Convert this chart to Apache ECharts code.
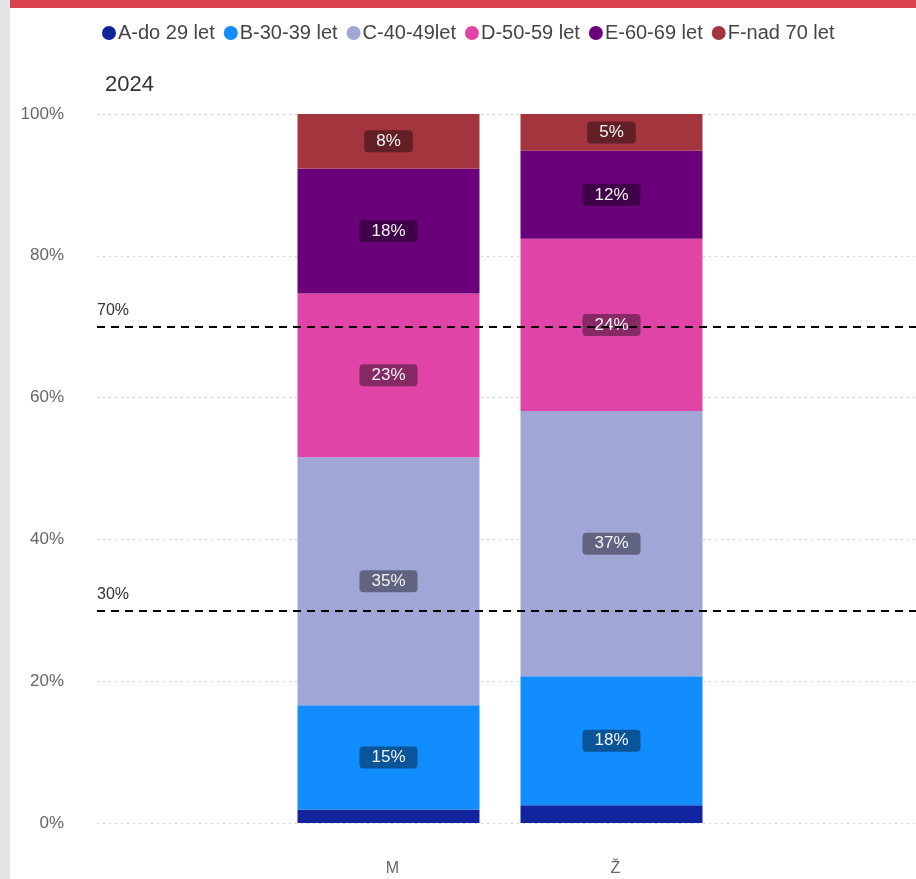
<!DOCTYPE html>
<html>
<head>
<meta charset="utf-8">
<script src="https://cdn.jsdelivr.net/npm/echarts@6/dist/echarts.min.js"></script>
<style>
html,body{margin:0;padding:0;background:#fff;}
#chart{width:916px;height:879px;}
</style>
</head>
<body>
<div id="chart"></div>
<script>
// ---- data ----
const categories = ['M', 'Ž'];
const seriesNames = ['A-do 29 let', 'B-30-39 let', 'C-40-49let', 'D-50-59 let', 'E-60-69 let', 'F-nad 70 let'];
const valuesA = [1.9, 2.5];
const valuesB = [14.7, 18.2];
const valuesC = [35.0, 37.4];
const valuesD = [23.1, 24.3];
const valuesE = [17.6, 12.4];
const valuesF = [7.7, 5.2];
const referenceLines = [70, 30];
const yTicks = [0, 20, 40, 60, 80, 100];
const yearTitle = '2024';

// ---- styles ----
const colors = ['#12239E', '#118DFF', '#A0A6D6', '#E044A7', '#6B007B', '#A4343E'];
function darken(hex, f) {
  const n = parseInt(hex.slice(1), 16);
  const r = Math.round(((n >> 16) & 255) * f), g = Math.round(((n >> 8) & 255) * f), b = Math.round((n & 255) * f);
  return 'rgb(' + r + ',' + g + ',' + b + ')';
}
const allValues = [valuesA, valuesB, valuesC, valuesD, valuesE, valuesF];

const chart = echarts.init(document.getElementById('chart'), null, {renderer: 'canvas'});

const barSeries = seriesNames.map((name, i) => ({
  name: name,
  type: 'bar',
  stack: 'total',
  xAxisIndex: 1,
  yAxisIndex: 1,
  barWidth: 182,
  itemStyle: {color: colors[i]},
  emphasis: {disabled: true},
  label: {
    show: true,
    position: 'inside',
    formatter: p => Math.round(p.value) + '%',
    color: '#f4f4f4',
    fontFamily: 'Liberation Sans, Arial, sans-serif',
    fontSize: 17,
    backgroundColor: darken(colors[i], 0.6),
    padding: [3, 12, 2, 12],
    borderRadius: 4
  },
  data: allValues[i].map(v => ({value: v, label: {show: v >= 3}}))
}));

const option = {
  animation: false,
  color: colors,
  textStyle: {fontFamily: 'Liberation Sans, Arial, sans-serif'},
  title: {
    text: yearTitle,
    left: 100,
    top: 69,
    textStyle: {fontSize: 22, fontWeight: 'normal', color: '#333'}
  },
  legend: {
    data: seriesNames,
    left: 97,
    top: 18,
    icon: 'circle',
    itemWidth: 14,
    itemHeight: 14,
    itemGap: 9,
    textStyle: {fontSize: 20, color: '#444', padding: [0, 0, 0, -3]}
  },
  graphic: [
    {type: 'rect', left: 0, top: 0, shape: {width: 10, height: 879}, style: {fill: '#e4e4e4'}, z: 10},
    {type: 'rect', left: 10, top: 0, shape: {width: 906, height: 8}, style: {fill: '#d9434f'}, z: 10}
  ],
  grid: [
    {left: 97, right: 0, top: 114, bottom: 56},
    {left: 277, right: 193, top: 114, bottom: 56}
  ],
  xAxis: [
    {type: 'value', gridIndex: 0, min: 0, max: 1, show: false},
    {
      type: 'category', gridIndex: 1, data: categories,
      axisLine: {show: false}, axisTick: {show: false},
      axisLabel: {margin: 38, fontSize: 16, color: '#666', padding: [0, 0, 0, 8]}
    }
  ],
  yAxis: [
    {
      type: 'value', gridIndex: 0, min: 0, max: 100, interval: 20,
      axisLine: {show: false}, axisTick: {show: false},
      axisLabel: {formatter: v => yTicks.includes(v) ? v + '%' : '', fontSize: 17, color: '#666', margin: 33},
      splitLine: {lineStyle: {color: '#cfcfcf', type: [2, 4], width: 1}}
    },
    {type: 'value', gridIndex: 1, min: 0, max: 100, show: false, splitLine: {show: false}}
  ],
  series: [
    {
      name: 'ref',
      type: 'line',
      xAxisIndex: 0,
      yAxisIndex: 0,
      data: [],
      symbol: 'none',
      markLine: {
        silent: true,
        symbol: ['none', 'none'],
        lineStyle: {color: '#000', type: [8, 6], width: 2},
        label: {
          position: 'insideStartTop',
          formatter: p => p.value + '%',
          color: '#333',
          fontSize: 16,
          distance: [0, 8]
        },
        data: referenceLines.map(v => ({yAxis: v}))
      },
      z: 5
    }
  ].concat(barSeries)
};
chart.setOption(option);
</script>
</body>
</html>
